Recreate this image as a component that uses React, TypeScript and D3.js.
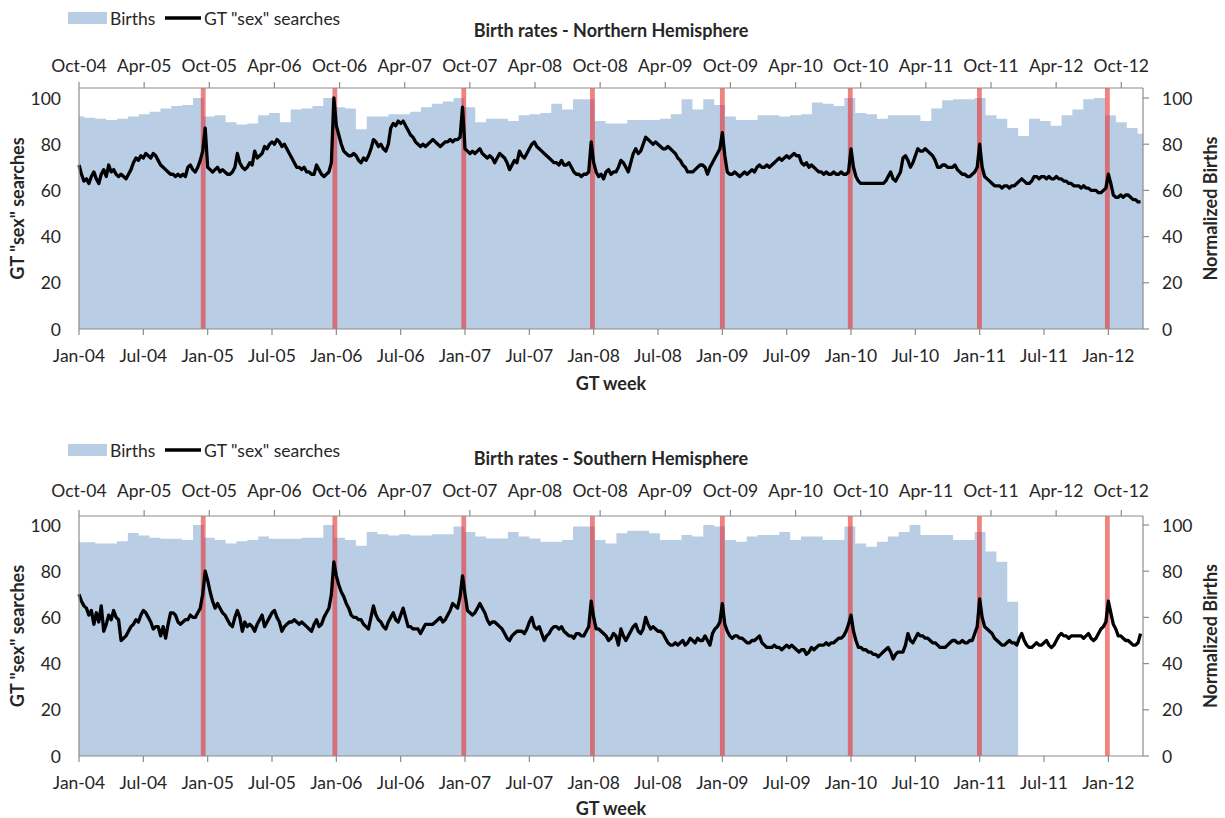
import React from 'react';
import * as d3 from 'd3';

// ---------- DATA ----------
const weekTickLabels = ['Jan-04','Jul-04','Jan-05','Jul-05','Jan-06','Jul-06','Jan-07','Jul-07','Jan-08','Jul-08','Jan-09','Jul-09','Jan-10','Jul-10','Jan-11','Jul-11','Jan-12'];
const monthTickLabels = ['Oct-04','Apr-05','Oct-05','Apr-06','Oct-06','Apr-07','Oct-07','Apr-08','Oct-08','Apr-09','Oct-09','Apr-10','Oct-10','Apr-11','Oct-11','Apr-12','Oct-12'];
const yTicks = [0, 20, 40, 60, 80, 100];
const christmasWeeks = [50.2, 103.4, 155.5, 207.5, 260, 311.7, 363.9, 415.6];

// Monthly normalized births, starting Oct-04
const northBirths = [92,91.5,91,90.5,91,92,93,94,95.5,96.5,97,100,92,92.5,89.5,88.5,89,92.5,93.5,89.5,95,95.5,96.5,100,96,95.5,86.5,92,92,93,93,94,96,97.5,98.5,100,96,89.5,91,91,90,92.5,93,93.5,97.5,95,99.5,99.5,90,89,89,90.5,90.5,90.5,91,93,99.5,95,99.5,97,92,90.5,90.5,92.5,92.5,92,92.5,93,98,97.5,96.5,100,93.5,93,91,92.5,92.5,92.5,90,95.5,99,99.5,99.5,100,92.5,91,87,83.5,91,90,88,92.5,95,99.5,100,92.5,89.5,87,84.5];
const southBirths = [92.5,92.5,92,92,93,96.5,95.5,94.5,94,94,93.5,100,94.5,93.5,92,93,93.5,95,94,94,94,94.5,94.5,100,94.5,93.5,91,97,96,95.5,96,95.5,95.5,96,96,99.3,97,95,94.2,94.2,97,95,94.2,92.8,92.8,93.5,99.3,99.3,93.5,92,96.4,97.5,97.5,96.4,93.5,93.5,95.7,95,100,99.3,93.5,92.8,95,95.7,95.7,97,93.5,95,95,93.5,93.5,99.3,92,90.6,92.8,95,97,100,95.7,95.7,95.7,93.5,93.5,97,88.5,84.1,66.8];

// Weekly GT "sex" searches, Northern Hemisphere (weeks from Jan-04)
const north2004 = [71,67,64,65,63,66,68,65,63,67,69,66,71,68,69,67,66,67,66,65,67,69,72,74,73,75,74,76,75,74,76,75,73,71,70,69,68,67,67,66,67,66,67,66,70,71,69,68,70,73,77,87];
const north2005 = [70,69,68,69,70,68,69,68,67,67,68,70,76,72,70,69,70,72,71,77,74,75,76,79,78,80,81,80,82,81,79,80,78,76,74,72,70,70,69,70,68,68,67,67,71,69,67,66,67,68,72,100];
const north2006 = [88,84,80,77,76,75,75,76,75,73,72,74,73,75,78,82,81,79,80,78,77,80,87,89,88,90,89,90,88,86,84,83,81,80,79,80,79,80,81,82,81,80,79,80,81,81,82,81,82,82,83,96];
const north2007 = [78,77,76,77,76,77,78,76,75,74,75,74,72,74,76,75,74,72,69,71,73,72,77,75,74,76,78,80,81,79,78,77,76,75,74,73,72,72,71,73,71,71,72,70,68,67,67,66,67,67,68,81];
const north2008 = [72,68,66,67,65,68,69,67,68,68,70,73,72,70,68,72,76,78,76,77,80,83,82,81,80,81,80,79,78,78,79,78,77,76,74,73,71,70,68,68,68,69,70,71,71,70,67,70,72,74,76,78];
const north2009 = [85,75,68,67,67,68,67,66,67,68,67,68,69,68,70,71,70,70,71,70,71,72,73,74,73,74,75,74,75,76,75,75,72,71,72,70,71,70,69,68,68,67,68,67,67,68,67,67,68,67,67,68];
const north2010 = [78,70,66,64,63,63,63,63,63,63,63,63,63,63,64,66,68,65,64,66,68,74,75,73,70,72,75,78,77,77,78,77,76,75,73,70,70,71,71,70,70,70,71,69,68,67,67,66,66,67,68,70];
const north2011 = [80,70,66,65,64,63,62,62,62,61,62,62,61,62,62,63,64,65,64,63,63,64,66,66,65,66,66,65,66,65,65,66,65,65,64,64,63,63,62,62,62,61,62,61,61,60,60,60,59,59,60,61];
const north2012 = [67,63,58,57,57,58,57,58,58,57,56,56,55,55];

// Weekly GT "sex" searches, Southern Hemisphere
const south2004 = [70,67,65,64,61,63,57,62,58,65,54,57,61,59,63,60,59,50,51,52,54,56,57,59,58,61,63,62,60,58,55,56,56,52,56,51,57,62,62,61,58,57,58,59,59,61,60,60,62,64,70,80];
const south2005 = [76,71,67,64,66,64,62,61,59,57,56,60,63,60,54,58,56,57,56,54,57,59,61,56,58,60,62,63,60,58,54,56,57,58,58,59,58,57,58,57,56,55,54,57,59,56,57,60,62,64,70,84];
const south2006 = [78,74,71,69,66,64,61,60,60,59,59,57,56,55,60,65,61,59,58,56,55,58,60,62,59,58,61,64,60,56,56,55,55,55,53,55,57,57,57,57,58,59,60,58,59,61,63,66,65,64,69,78];
const south2007 = [70,63,62,61,62,64,66,64,62,59,57,58,58,57,56,55,53,51,50,52,53,54,54,54,53,55,58,60,56,55,56,53,50,52,53,55,56,56,55,56,54,53,52,52,51,53,53,52,52,54,56,67];
const south2008 = [60,55,55,54,53,52,50,51,53,52,48,55,52,50,52,54,56,57,54,53,55,60,57,55,56,55,54,54,53,51,49,48,48,49,48,49,50,48,49,51,50,49,51,50,50,52,50,48,53,55,56,58];
const south2009 = [66,57,54,52,51,52,52,51,51,50,49,49,50,50,51,52,49,48,47,47,47,48,47,47,46,47,48,47,48,47,46,45,46,46,44,45,47,46,47,48,48,48,49,48,49,49,50,51,51,52,54,57];
const south2010 = [61,54,50,47,47,46,46,45,45,44,44,43,44,45,46,47,45,42,44,45,45,45,48,53,50,49,51,53,52,52,51,51,50,49,49,48,47,47,47,48,49,50,50,49,49,50,49,49,50,50,53,56];
const south2011 = [68,60,56,55,54,53,51,50,49,48,48,49,50,49,49,48,51,53,50,48,47,47,48,49,48,48,49,50,48,47,48,50,52,53,52,52,51,52,52,52,52,52,51,52,53,51,50,51,53,55,56,58];
const south2012 = [67,62,57,55,52,52,51,50,50,49,48,48,49,53];

const northSearches = [...north2004, ...north2005, ...north2006, ...north2007, ...north2008, ...north2009, ...north2010, ...north2011, ...north2012];
const southSearches = [...south2004, ...south2005, ...south2006, ...south2007, ...south2008, ...south2009, ...south2010, ...south2011, ...south2012];

// ---------- LAYOUT ----------
const W = 1225, H = 818;
const X0 = 79, X1 = 1143;
const WEEKS = 430, MONTHS = 98;
const FONT = 'Lato, "Open Sans", sans-serif';
const TEXT = '#262626';
const AXIS = '#8c8c8c';
const BLUE = '#b9cde5';
const TICK_FS = 17.5;
const BOLD_FS = 18;

const weekX = d3.scaleLinear().domain([0, WEEKS]).range([X0, X1]);
const monthX = d3.scaleLinear().domain([0, MONTHS]).range([X0, X1]);

type PanelProps = {
  title: string; births: number[]; searches: number[];
  plotTop: number; yZero: number; yHundred: number;
  legendY: number; titleY: number; topLabelY: number; bottomLabelY: number; xTitleY: number;
};

function Panel(p: PanelProps) {
  const y = d3.scaleLinear().domain([0, 100]).range([p.yZero, p.yHundred]);
  const stepPts: [number, number][] = [];
  p.births.forEach((v, i) => {
    stepPts.push([Math.max(0, i - 0.5), v]);
    stepPts.push([Math.min(MONTHS, i + 0.5), v]);
  });
  const area = d3.area<[number, number]>()
    .x(d => monthX(d[0])).y0(y(0)).y1(d => y(d[1]));
  const line = d3.line<number>().x((_, i) => weekX(i)).y(d => y(d));
  const midY = (p.plotTop + p.yZero) / 2;
  return (
    <g>
      {/* legend */}
      <rect x={68} y={p.legendY - 6} width={39} height={12} fill={BLUE} />
      <text x={110} y={p.legendY} dominantBaseline="central" fontSize={TICK_FS} fill={TEXT}>Births</text>
      <line x1={165} x2={201} y1={p.legendY} y2={p.legendY} stroke="#000" strokeWidth={3.3} />
      <text x={204} y={p.legendY} dominantBaseline="central" fontSize={TICK_FS} fill={TEXT}>GT "sex" searches</text>
      {/* title */}
      <text x={611} y={p.titleY} textAnchor="middle" dominantBaseline="central" fontSize={BOLD_FS} fontWeight="bold" fill={TEXT}>{p.title}</text>

      {/* births area */}
      <path d={area(stepPts) || ''} fill={BLUE} />
      {/* christmas lines */}
      {christmasWeeks.map((w, i) => (
        <line key={i} x1={weekX(w)} x2={weekX(w)} y1={p.plotTop} y2={p.yZero} stroke="rgb(230,47,47)" strokeOpacity={0.6} strokeWidth={4.8} />
      ))}
      {/* searches line */}
      <path d={line(p.searches) || ''} fill="none" stroke="#000" strokeWidth={3.3} strokeLinejoin="round" />

      {/* frame / axes */}
      <line x1={X0} x2={X1} y1={p.plotTop} y2={p.plotTop} stroke={AXIS} strokeWidth={1.2} />
      <line x1={X0} x2={X1} y1={p.yZero} y2={p.yZero} stroke={AXIS} strokeWidth={1.2} />
      <line x1={X0} x2={X0} y1={p.plotTop} y2={p.yZero} stroke={AXIS} strokeWidth={1.2} />
      <line x1={X1} x2={X1} y1={p.plotTop} y2={p.yZero} stroke={AXIS} strokeWidth={1.2} />

      {/* top month axis */}
      {monthTickLabels.map((lab, i) => {
        const x = monthX(i * 6);
        return (
          <g key={lab}>
            <line x1={x} x2={x} y1={p.plotTop} y2={p.plotTop - 6} stroke={AXIS} strokeWidth={1.2} />
            <text x={x} y={p.topLabelY} textAnchor="middle" dominantBaseline="central" fontSize={TICK_FS} fill={TEXT}>{lab}</text>
          </g>
        );
      })}
      {/* bottom week axis */}
      {weekTickLabels.map((lab, i) => {
        const x = weekX(i * 26);
        return (
          <g key={lab}>
            <line x1={x} x2={x} y1={p.yZero} y2={p.yZero + 6} stroke={AXIS} strokeWidth={1.2} />
            <text x={x} y={p.bottomLabelY} textAnchor="middle" dominantBaseline="central" fontSize={TICK_FS} fill={TEXT}>{lab}</text>
          </g>
        );
      })}
      {/* left & right value axes */}
      {yTicks.map(t => (
        <g key={t}>
          <text x={61} y={y(t)} textAnchor="end" dominantBaseline="central" fontSize={TICK_FS} fill={TEXT}>{t}</text>
          <line x1={X1} x2={X1 + 6} y1={y(t)} y2={y(t)} stroke={AXIS} strokeWidth={1.2} />
          <text x={1162} y={y(t)} textAnchor="start" dominantBaseline="central" fontSize={TICK_FS} fill={TEXT}>{t}</text>
        </g>
      ))}
      {/* axis titles */}
      <text transform={`translate(17,${midY}) rotate(-90)`} textAnchor="middle" dominantBaseline="central" fontSize={BOLD_FS} fontWeight="bold" fill={TEXT}>GT "sex" searches</text>
      <text transform={`translate(1210,${midY}) rotate(-90)`} textAnchor="middle" dominantBaseline="central" fontSize={BOLD_FS} fontWeight="bold" fill={TEXT}>Normalized Births</text>
      <text x={611} y={p.xTitleY} textAnchor="middle" dominantBaseline="central" fontSize={BOLD_FS} fontWeight="bold" fill={TEXT}>GT week</text>
    </g>
  );
}

export default function App() {
  return (
    <svg width={W} height={H} style={{ position: 'absolute', left: 0, top: 0, background: '#fff' }} fontFamily={FONT}>
      <rect x={0} y={0} width={W} height={H} fill="#fff" />
      <Panel title="Birth rates - Northern Hemisphere" births={northBirths} searches={northSearches}
        plotTop={88} yZero={329} yHundred={98} legendY={18} titleY={30} topLabelY={65} bottomLabelY={355} xTitleY={383} />
      <Panel title="Birth rates - Southern Hemisphere" births={southBirths} searches={southSearches}
        plotTop={516} yZero={756} yHundred={525} legendY={450} titleY={458} topLabelY={490} bottomLabelY={782} xTitleY={808} />
    </svg>
  );
}
